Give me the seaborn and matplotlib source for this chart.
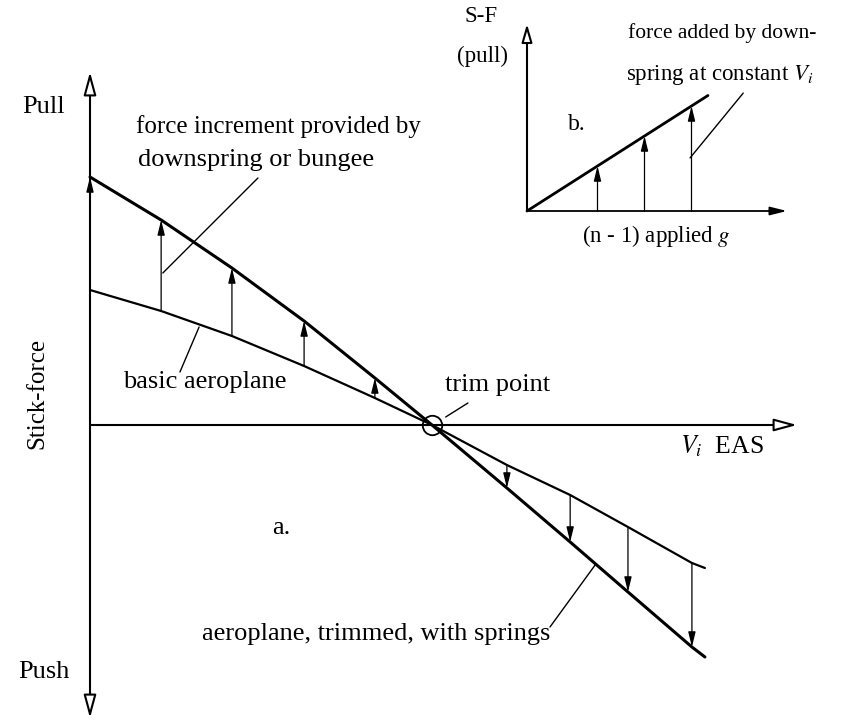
import numpy as np
import pandas as pd
import seaborn as sns
import matplotlib.pyplot as plt
from matplotlib.patches import FancyArrowPatch

# ---- data -------------------------------------------------------------
# a. stick-force against equivalent airspeed (arbitrary units)
speed = [0.0, 2.08, 4.15, 6.26, 8.33, 10.0, 12.19, 14.04, 15.73, 17.60, 17.98]
basic_force = [5.40, 4.56, 3.56, 2.36, 1.08, 0.0, -1.60, -2.80, -4.08, -5.52, -5.72]
spring_force = [9.92, 8.20, 6.28, 4.16, 1.88, 0.0, -2.52, -4.68, -6.68, -8.88, -9.28]
trim_speed, trim_force = 10.0, 0.0
pull_arrow_idx = [0, 1, 2, 3, 4]
push_arrow_idx = [6, 7, 8, 9]

# b. force added by downspring against applied g
g_line = [0.0, 3.85]
sf_line = [0.0, 3.85]
g_arrows = [1.5, 2.5, 3.5]
sf_arrows = [1.5, 2.5, 3.5]

# ---- figure -----------------------------------------------------------
sns.set_theme(style="white")
plt.rcParams["font.family"] = ["Liberation Serif", "DejaVu Serif"]
plt.rcParams["mathtext.fontset"] = "stix"

W, H = 841, 721
fig = plt.figure(figsize=(W / 100, H / 100), dpi=100)
fig.patch.set_facecolor("white")

# main diagram: origin of the axes sits at pixel (90, 425)
X0, Y0, PV, PF = 90, 425, 34.2, 25.0
ax = fig.add_axes([0, 0, 1, 1])
ax.set_xlim(-X0 / PV, (W - X0) / PV)
ax.set_ylim(-(H - Y0) / PF, Y0 / PF)
ax.axis("off")

df = pd.DataFrame({"speed": speed, "basic": basic_force, "springs": spring_force})
sns.lineplot(data=df, x="speed", y="basic", ax=ax, color="black", lw=1.6, sort=False)
sns.lineplot(data=df, x="speed", y="springs", ax=ax, color="black", lw=2.2, sort=False)

# axes with open arrowheads
v_end = (797 - X0) / PV
f_top = (Y0 - 72) / PF
f_bot = (Y0 - 718) / PF
ax.add_patch(FancyArrowPatch((0, 0), (v_end, 0),
             arrowstyle="-|>,head_length=1.4,head_width=0.38", mutation_scale=10,
             fc="white", ec="black", lw=1.5, shrinkA=0, shrinkB=0))
ax.add_patch(FancyArrowPatch((0, f_bot), (0, f_top),
             arrowstyle="<|-|>,head_length=1.4,head_width=0.38", mutation_scale=10,
             fc="white", ec="black", lw=1.5, shrinkA=0, shrinkB=0))

small_head = dict(arrowstyle="-|>,head_length=0.9,head_width=0.22", mutation_scale=10,
                  lw=0.9, color="black", shrinkA=0, shrinkB=0)
for i in pull_arrow_idx + push_arrow_idx:
    ax.annotate("", xy=(speed[i], spring_force[i]), xytext=(speed[i], basic_force[i]),
                arrowprops=small_head)

ax.plot(trim_speed, trim_force, "o", ms=14, mfc="none", mec="black", mew=1.3)

leader = dict(arrowstyle="-", lw=1.0, color="black", shrinkA=0, shrinkB=0)
# force increment leader to the second arrow
ax.annotate("", xy=(speed[1] + 0.05, 6.08), xytext=(4.91, 9.88), arrowprops=leader)
# basic aeroplane leader
ax.annotate("", xy=(3.19, 3.92), xytext=(2.63, 2.12), arrowprops=leader)
# trim point leader
ax.annotate("", xy=(10.4, 0.32), xytext=(11.05, 0.88), arrowprops=leader)
# springs leader
ax.annotate("", xy=(14.77, -5.6), xytext=(13.45, -8.08), arrowprops=leader)

# inset b.: origin at pixel (527, 211); the axes box reaches past the origin
IX0, IY0, PG, PS = 527, 211, 47.0, 30.0
BX0, BY1 = 440, 260
axb = fig.add_axes([BX0 / W, 1 - BY1 / H, (W - BX0) / W, BY1 / H])
axb.set_xlim(-(IX0 - BX0) / PG, (W - IX0) / PG)
axb.set_ylim(-(BY1 - IY0) / PS, IY0 / PS)
axb.axis("off")
axb.patch.set_alpha(0)
sns.lineplot(x=g_line, y=sf_line, ax=axb, color="black", lw=2.0, sort=False)
axb.add_patch(FancyArrowPatch((0, 0), ((787 - IX0) / PG, 0),
              arrowstyle="-|>,head_length=1.0,head_width=0.25", mutation_scale=10,
              fc="black", ec="black", lw=1.3, shrinkA=0, shrinkB=0))
axb.add_patch(FancyArrowPatch((0, 0), (0, (IY0 - 24) / PS),
              arrowstyle="-|>,head_length=1.1,head_width=0.32", mutation_scale=10,
              fc="white", ec="black", lw=1.5, shrinkA=0, shrinkB=0))
for g, s in zip(g_arrows, sf_arrows):
    axb.annotate("", xy=(g, s), xytext=(g, 0), arrowprops=small_head)
axb.annotate("", xy=(3.47, 1.77), xytext=(4.6, 3.93), arrowprops=leader)


# ---- text -------------------------------------------------------------
def put(x, y, s, size=19, ha="left", **kw):
    fig.text(x / W, 1 - y / H, s, fontsize=size, ha=ha, va="center", color="black", **kw)


put(22, 107, "Pull")
put(18, 672, "Push")
put(37, 393, "Stick-force", size=18, ha="center", rotation=90)
put(136, 127, "force increment provided by", size=18)
put(138, 160, "downspring or bungee")
put(123, 382, "basic aeroplane")
put(445, 385, "trim point")
put(680, 446, r"$V_i$  EAS", size=18.5)
put(272, 528, "a.")
put(202, 634, "aeroplane, trimmed, with springs")

put(465, 16, "S-F", size=16.5)
put(457, 56, "(pull)", size=16.5)
put(568, 124, "b.", size=17)
put(628, 33, "force added by down-", size=15.5)
put(626, 75, r"spring at constant $V_i$", size=16.5)
put(582, 236, r"(n - 1) applied $g$", size=16.5)

fig.savefig("out.png", dpi=100, facecolor="white")
